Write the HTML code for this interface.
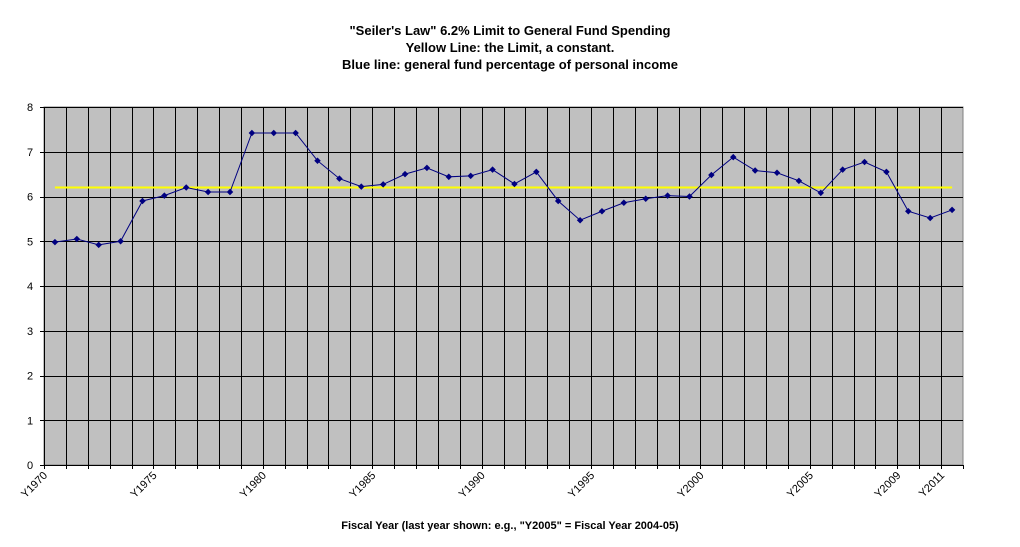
<!DOCTYPE html>
<html><head><meta charset="utf-8"><style>
body{margin:0;background:#fff;}
svg{display:block;font-family:"Liberation Sans",Arial,sans-serif;}
</style></head><body>
<svg width="1020" height="547" viewBox="0 0 1020 547" xmlns="http://www.w3.org/2000/svg">
<rect width="1020" height="547" fill="#fff"/>
<g font-weight="bold" font-size="13" text-anchor="middle" fill="#000">
<text x="510" y="35">"Seiler's Law" 6.2% Limit to General Fund Spending</text>
<text x="510" y="52">Yellow Line: the Limit, a constant.</text>
<text x="510" y="69">Blue line: general fund percentage of personal income</text>
<text x="510" y="529" font-size="11">Fiscal Year (last year shown: e.g., "Y2005" = Fiscal Year 2004-05)</text>
</g>
<rect x="44" y="107" width="919" height="358" fill="#c0c0c0" stroke="#808080"/>
<g id="grid" stroke="#000" stroke-width="1"></g>
<g id="lab" font-size="11" fill="#000"></g>
<polyline id="yl" fill="none" stroke="#ffff00" stroke-width="2"/>
<polyline id="bl" fill="none" stroke="#000080" stroke-width="1"/>
<g id="pts" fill="#000080"></g>
</svg>
<script>
var ns="http://www.w3.org/2000/svg";
function el(t,a,p){var e=document.createElementNS(ns,t);for(var k in a)e.setAttribute(k,a[k]);document.getElementById(p).appendChild(e);return e;}
var x0=44,x1=963,y0=465,u=44.75,n=42,w=(x1-x0)/n;
for(var i=1;i<n;i++){var x=Math.round(x0+i*w)+0.5;el('line',{x1:x,x2:x,y1:107,y2:465},'grid');}
for(var v=1;v<=8;v++){var y=Math.round(y0-v*u)+0.5;el('line',{x1:40,x2:963,y1:y,y2:y},'grid');}
el('line',{x1:40,x2:963,y1:465.5,y2:465.5},'grid');
el('line',{x1:44.5,x2:44.5,y1:107,y2:465},'grid');
for(var v=0;v<=8;v++){var t=el('text',{x:30,y:y0-v*u+4,'text-anchor':'middle'},'lab');t.textContent=v;}
for(var i=0;i<=n;i++){var x=Math.round(x0+i*w)+0.5;el('line',{x1:x,x2:x,y1:465,y2:469},'grid');}
var d=[4.98,5.05,4.92,5.0,5.9,6.02,6.2,6.1,6.1,7.42,7.42,7.42,6.8,6.4,6.22,6.27,6.5,6.64,6.44,6.46,6.6,6.28,6.55,5.9,5.47,5.67,5.86,5.95,6.02,6.0,6.48,6.88,6.58,6.53,6.35,6.08,6.6,6.77,6.55,5.67,5.52,5.7];
var labs={0:'Y1970',5:'Y1975',10:'Y1980',15:'Y1985',20:'Y1990',25:'Y1995',30:'Y2000',35:'Y2005',39:'Y2009',41:'Y2011'};
var pts=[];
for(var i=0;i<n;i++){var x=x0+(i+0.5)*w,y=y0-d[i]*u;pts.push(x+','+y);
el('rect',{x:x-2.3,y:y-2.3,width:4.6,height:4.6,transform:'rotate(45 '+x+' '+y+')'},'pts');}
for(var i in labs){var x=x0+i*w+4;var t=el('text',{x:x,y:476,'text-anchor':'end',transform:'rotate(-45 '+x+' 476)'},'lab');t.textContent=labs[i];}
document.getElementById('bl').setAttribute('points',pts.join(' '));
var yy=y0-6.2*u;document.getElementById('yl').setAttribute('points',(x0+0.5*w)+','+yy+' '+(x0+41.5*w)+','+yy);
</script>
</body></html>
